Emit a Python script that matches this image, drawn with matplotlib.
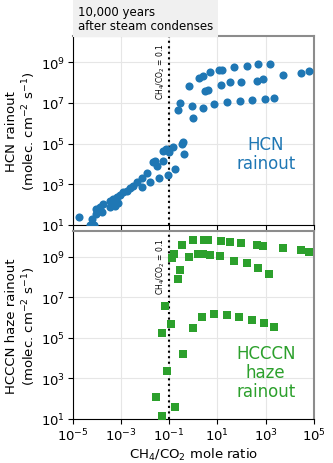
import numpy as np
import matplotlib
matplotlib.use("Agg")
import matplotlib.pyplot as plt

# HCN rainout (log10 values)
hcn_logx = [-4.74, -4.28, -4.10, -4.21, -4.03, -4.01, -3.87, -3.80, -3.73, -3.45,
            -3.45, -3.32, -3.25, -3.18, -3.11, -3.04, -2.90, -2.76, -2.63, -2.49,
            -2.35, -2.14, -2.13, -1.93, -1.80, -1.68, -1.59, -1.52, -1.42, -1.25,
            -1.25, -1.15, -1.04, -1.01, -0.83, -0.76, -0.48, -0.43, -0.40,
            -0.65, -0.55, -0.04, 0.39, 0.87, 1.39, 1.92, 2.45, 2.95, 3.33, -0.01,
            0.48, 0.61, 1.13, 1.52, 1.98, 2.62, 2.87,
            -0.17, 0.22, 0.39, 0.69, 1.08, 1.20, 1.70, 2.22, 2.69, 3.16, 3.70, 4.47, 4.79]
hcn_logy = [1.41, 1.00, 1.00, 1.29, 1.79, 1.54, 1.87, 1.62, 2.03, 2.19,
            1.90, 2.28, 1.95, 2.39, 2.08, 2.49, 2.61, 2.69, 2.80, 2.90,
            3.10, 2.85, 3.30, 3.56, 3.10, 4.08, 4.16, 3.92, 3.30, 4.62,
            4.16, 4.74, 3.46, 4.57, 4.82, 3.75, 4.98, 5.10, 4.49,
            6.65, 6.98, 6.86, 6.74, 6.96, 7.03, 7.08, 7.14, 7.21, 7.24, 6.24,
            7.57, 7.65, 7.89, 8.02, 8.02, 8.09, 8.19,
            7.85, 8.21, 8.33, 8.54, 8.62, 8.62, 8.78, 8.79, 8.90, 8.89, 8.35, 8.47, 8.55]

# HCCCN haze rainout
hc3n_logx = [-0.48, -0.03, 0.45, 0.62, 1.13, 1.52, 1.96, 2.63, 2.87, 3.70, 4.46, 4.78,
             -0.80, -0.88, -0.18, 0.21, 0.39, 0.69, 1.10, 1.68, 2.21, 2.69, 3.15,
             -0.55, -0.65, -1.17,
             -1.29, -0.91, -0.03, 0.37, 0.87, 1.38, 1.90, 2.44, 2.93, 3.34,
             -0.42, -1.10, -1.56, -0.76, -1.29]
hc3n_logy = [9.61, 9.82, 9.82, 9.81, 9.77, 9.72, 9.67, 9.61, 9.54, 9.44, 9.33, 9.25,
             9.15, 8.95, 8.98, 9.13, 9.13, 9.07, 9.02, 8.82, 8.69, 8.43, 8.16,
             8.33, 7.91, 6.60,
             5.22, 5.68, 5.48, 6.01, 6.17, 6.14, 6.04, 5.89, 5.72, 5.55,
             4.20, 3.38, 2.07, 1.61, 1.16]

ratio_line = 0.1
xticks = [1e-5, 1e-3, 1e-1, 1e1, 1e3, 1e5]
yticks = [1e1, 1e3, 1e5, 1e7, 1e9]

fig = plt.figure(figsize=(3.33, 4.64), dpi=100)
ax1 = fig.add_axes([0.218, 0.513, 0.725, 0.407])
ax2 = fig.add_axes([0.218, 0.095, 0.725, 0.405], sharex=ax1)

blue = '#1f77b4'
green = '#2ca02c'

ax1.scatter(10**np.array(hcn_logx), 10**np.array(hcn_logy), s=34, color=blue, marker='o',
            zorder=3, linewidths=0)
ax2.scatter(10**np.array(hc3n_logx), 10**np.array(hc3n_logy), s=34, color=green, marker='s',
            zorder=3, linewidths=0)

for ax in (ax1, ax2):
    ax.set_xscale('log')
    ax.set_yscale('log')
    ax.set_xlim(1e-5, 1e5)
    ax.set_ylim(10, 1.9e10)
    ax.set_xticks(xticks)
    ax.set_yticks(yticks)
    ax.minorticks_off()
    ax.grid(True, color='0.9', lw=0.8, zorder=0)
    ax.tick_params(labelsize=9.5, length=3.5, width=0.8, pad=2)
    ax.axvline(ratio_line, color='k', ls=':', lw=1.5, zorder=2)
    ax.text(0.085, 0.97, r'CH$_4$/CO$_2$ = 0.1', rotation=90, fontsize=5.5,
            ha='right', va='top', transform=ax.get_xaxis_transform())
    for s in ('top', 'right'):
        ax.spines[s].set_color('0.55')
        ax.spines[s].set_linewidth(1.5)
    for s in ('left', 'bottom'):
        ax.spines[s].set_color('k')

plt.setp(ax1.get_xticklabels(), visible=False)

ax1.set_ylabel('HCN rainout\n(molec. cm$^{-2}$ s$^{-1}$)', fontsize=9.5, labelpad=2)
ax2.set_ylabel('HCCCN haze rainout\n(molec. cm$^{-2}$ s$^{-1}$)', fontsize=9.5, labelpad=2)
ax2.set_xlabel('CH$_4$/CO$_2$ mole ratio', fontsize=9.5, labelpad=2)

ax1.text(0.8, 0.38, 'HCN\nrainout', color=blue, fontsize=12, ha='center', va='center',
         transform=ax1.transAxes, linespacing=1.05)
ax2.text(0.8, 0.25, 'HCCCN\nhaze\nrainout', color=green, fontsize=12, ha='center', va='center',
         transform=ax2.transAxes, linespacing=1.05)

fig.text(0.234, 0.958, '10,000 years\nafter steam condenses', fontsize=8.5, ha='left', va='center',
         linespacing=1.1,
         bbox=dict(facecolor='0.94', edgecolor='none', boxstyle='square,pad=0.45'))

fig.savefig('out.png', dpi=100)
